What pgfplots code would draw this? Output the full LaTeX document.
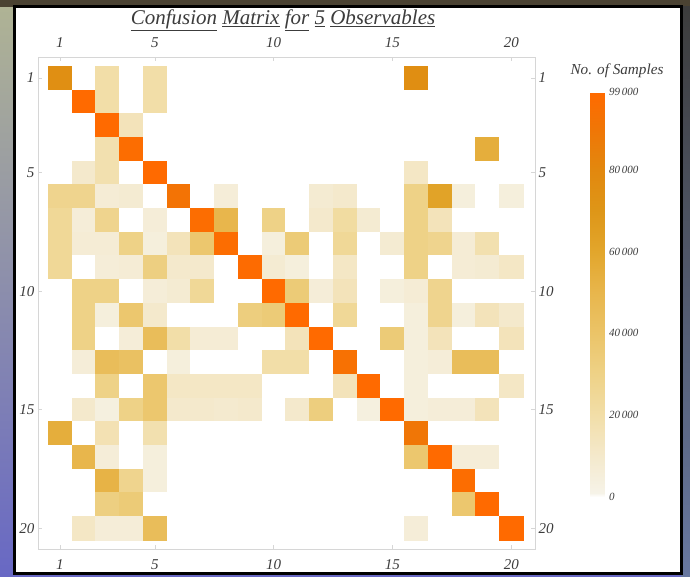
\documentclass[border=0pt]{standalone}
\usepackage{pgfplots}
\usepackage{pgfplotstable}
\pgfplotsset{compat=1.18}
\usepackage{fontspec}
\setmainfont{Liberation Serif}

\definecolor{framegray}{RGB}{214,214,214}
\definecolor{labelgray}{RGB}{60,60,60}
\definecolor{bgtop}{RGB}{176,180,148}
\definecolor{bgmid}{RGB}{150,146,120}
\definecolor{bgbot}{RGB}{104,104,196}
\definecolor{bgband}{RGB}{74,66,50}
\definecolor{bgrtop}{RGB}{60,60,60}
\definecolor{bgrbot}{RGB}{104,120,160}

\pgfplotsset{
  colormap={samples}{
    rgb255(0pt)=(255,255,255)
    rgb255(1pt)=(246,243,232)
    rgb255(10pt)=(244,233,204)
    rgb255(20pt)=(242,222,168)
    rgb255(30pt)=(238,210,135)
    rgb255(40pt)=(235,196,104)
    rgb255(50pt)=(232,182,76)
    rgb255(60pt)=(226,166,44)
    rgb255(70pt)=(222,150,24)
    rgb255(80pt)=(226,136,14)
    rgb255(90pt)=(240,118,6)
    rgb255(99pt)=(255,106,0)
  },
  ticklabelfont/.style={font=\fontsize{15}{15}\selectfont\itshape, text=labelgray},
}

% counts per (true class = row, predicted class = column), read row by row
\pgfplotstableread[row sep=\\, header=false]{
75000\\ 0\\ 20000\\ 0\\ 20000\\ 0\\ 0\\ 0\\ 0\\ 0\\ 0\\ 0\\ 0\\ 0\\ 0\\ 76000\\ 0\\ 0\\ 0\\ 0\\
0\\ 99000\\ 20000\\ 0\\ 20000\\ 0\\ 0\\ 0\\ 0\\ 0\\ 0\\ 0\\ 0\\ 0\\ 0\\ 0\\ 0\\ 0\\ 0\\ 0\\
0\\ 0\\ 99000\\ 15000\\ 0\\ 0\\ 0\\ 0\\ 0\\ 0\\ 0\\ 0\\ 0\\ 0\\ 0\\ 0\\ 0\\ 0\\ 0\\ 0\\
0\\ 0\\ 18000\\ 97000\\ 0\\ 0\\ 0\\ 0\\ 0\\ 0\\ 0\\ 0\\ 0\\ 0\\ 0\\ 0\\ 0\\ 0\\ 55000\\ 0\\
0\\ 10000\\ 18000\\ 0\\ 99000\\ 0\\ 0\\ 0\\ 0\\ 0\\ 0\\ 0\\ 0\\ 0\\ 0\\ 12000\\ 0\\ 0\\ 0\\ 0\\
28000\\ 28000\\ 7000\\ 8000\\ 0\\ 92000\\ 0\\ 6000\\ 0\\ 0\\ 0\\ 8000\\ 10000\\ 0\\ 0\\ 30000\\ 62000\\ 5000\\ 0\\ 5000\\
25000\\ 6000\\ 28000\\ 0\\ 6000\\ 0\\ 97000\\ 50000\\ 0\\ 30000\\ 0\\ 10000\\ 22000\\ 8000\\ 0\\ 30000\\ 15000\\ 0\\ 0\\ 0\\
25000\\ 7000\\ 7000\\ 30000\\ 5000\\ 15000\\ 38000\\ 97000\\ 0\\ 5000\\ 35000\\ 0\\ 25000\\ 0\\ 8000\\ 30000\\ 28000\\ 7000\\ 18000\\ 0\\
25000\\ 0\\ 6000\\ 7000\\ 32000\\ 10000\\ 10000\\ 0\\ 98000\\ 8000\\ 5000\\ 0\\ 12000\\ 0\\ 0\\ 30000\\ 0\\ 7000\\ 8000\\ 12000\\
0\\ 30000\\ 30000\\ 0\\ 6000\\ 8000\\ 25000\\ 0\\ 0\\ 99000\\ 35000\\ 6000\\ 15000\\ 0\\ 5000\\ 7000\\ 28000\\ 0\\ 0\\ 0\\
0\\ 30000\\ 5000\\ 38000\\ 10000\\ 0\\ 0\\ 0\\ 33000\\ 35000\\ 99000\\ 0\\ 25000\\ 0\\ 0\\ 5000\\ 28000\\ 5000\\ 15000\\ 10000\\
0\\ 30000\\ 0\\ 6000\\ 45000\\ 20000\\ 7000\\ 7000\\ 0\\ 0\\ 15000\\ 99000\\ 0\\ 0\\ 35000\\ 5000\\ 15000\\ 0\\ 0\\ 15000\\
0\\ 6000\\ 45000\\ 42000\\ 0\\ 5000\\ 0\\ 0\\ 0\\ 20000\\ 20000\\ 0\\ 94000\\ 0\\ 0\\ 5000\\ 6000\\ 45000\\ 45000\\ 0\\
0\\ 0\\ 30000\\ 0\\ 38000\\ 12000\\ 12000\\ 12000\\ 12000\\ 0\\ 0\\ 0\\ 15000\\ 99000\\ 0\\ 5000\\ 0\\ 0\\ 0\\ 12000\\
0\\ 10000\\ 4000\\ 30000\\ 38000\\ 10000\\ 10000\\ 9000\\ 10000\\ 0\\ 10000\\ 33000\\ 0\\ 4000\\ 99000\\ 5000\\ 6000\\ 6000\\ 15000\\ 0\\
55000\\ 0\\ 17000\\ 0\\ 18000\\ 0\\ 0\\ 0\\ 0\\ 0\\ 0\\ 0\\ 0\\ 0\\ 0\\ 90000\\ 0\\ 0\\ 0\\ 0\\
0\\ 50000\\ 6000\\ 0\\ 5000\\ 0\\ 0\\ 0\\ 0\\ 0\\ 0\\ 0\\ 0\\ 0\\ 0\\ 38000\\ 99000\\ 6000\\ 6000\\ 0\\
0\\ 0\\ 52000\\ 28000\\ 5000\\ 0\\ 0\\ 0\\ 0\\ 0\\ 0\\ 0\\ 0\\ 0\\ 0\\ 0\\ 0\\ 97000\\ 0\\ 0\\
0\\ 0\\ 32000\\ 35000\\ 0\\ 0\\ 0\\ 0\\ 0\\ 0\\ 0\\ 0\\ 0\\ 0\\ 0\\ 0\\ 0\\ 38000\\ 99000\\ 0\\
0\\ 12000\\ 6000\\ 6000\\ 45000\\ 0\\ 0\\ 0\\ 0\\ 0\\ 0\\ 0\\ 0\\ 0\\ 0\\ 6000\\ 0\\ 0\\ 0\\ 99000\\
}\confusion

\begin{document}
\begin{tikzpicture}[x=1pt,y=1pt]
% backdrop behind the panel
\shade[top color=bgtop, middle color=bgmid, bottom color=bgbot] (0,0) rectangle (690,576);
\fill[bgband] (0,569) rectangle (690,576);
\shade[top color=bgrtop, bottom color=bgrbot] (681,0) rectangle (690,569);
% white panel with black border
\draw[line width=3pt, fill=white] (14.5,2.5) rectangle (681.5,569.5);

% title
\node[font=\fontsize{21}{21}\selectfont\itshape, text=labelgray] at (283,556)
  {\underline{Confusion} \underline{Matrix} \underline{for} \underline{5} \underline{Observables}};
% colour bar heading
\node[font=\fontsize{15.2}{15.2}\selectfont\itshape, text=labelgray] at (617,505) {No. of Samples};

\begin{axis}[
  at={(38pt,27pt)}, anchor=south west,
  scale only axis, width=497pt, height=492pt,
  xmin=0.08, xmax=21.0, ymin=0.12, ymax=20.88, y dir=reverse,
  axis line style={draw=framegray, line width=0.8pt},
  xtick={1,5,10,15,20}, ytick={1,5,10,15,20},
  tick style={draw=framegray, line width=0.6pt}, major tick length=4pt,
  tick pos=both, xticklabel pos=right, yticklabel pos=left,
  ticklabel style={ticklabelfont},
  xticklabel style={yshift=6pt},
  /pgf/number format/assume math mode=true,
  colormap name=samples, point meta min=0, point meta max=99000,
  colorbar,
  colorbar style={
    at={(parent axis.north east)}, anchor=north west,
    xshift=47pt, yshift=-35pt,
    width=15pt, height=405pt,
    axis line style={draw=none}, major tick length=0pt,
    ytick={0,20000,40000,60000,80000,99000},
    yticklabels={0,20\,000,40\,000,60\,000,80\,000,99\,000},
    yticklabel style={font=\fontsize{11}{11}\selectfont\itshape, text=labelgray},
    scaled y ticks=false,
  },
]
% one square per matrix entry, side = one data unit (497pt / 20.92)
\addplot[scatter, only marks, mark=square*, mark size=11.88pt,
  point meta=explicit,
  scatter/use mapped color={draw=mapped color, fill=mapped color},
  mark options={line width=0.3pt}]
  table[x index=0, y index=0,
        x expr={\coordindex - 20*floor((\coordindex+0.5)/20) + 1},
        y expr={floor((\coordindex+0.5)/20) + 1},
        meta index=0] {\confusion};
\end{axis}

% second frame carrying the opposite tick labels
\begin{axis}[
  at={(38pt,27pt)}, anchor=south west,
  scale only axis, width=497pt, height=492pt,
  xmin=0.08, xmax=21.0, ymin=0.12, ymax=20.88, y dir=reverse,
  axis line style={draw=none}, tick style={draw=none},
  xtick={1,5,10,15,20}, ytick={1,5,10,15,20},
  xticklabel pos=left, yticklabel pos=right,
  ticklabel style={ticklabelfont},
  xticklabel style={yshift=-7pt},
  /pgf/number format/assume math mode=true,
]
\addplot[draw=none] coordinates {(1,1)};
\end{axis}
\pgfresetboundingbox
\useasboundingbox (0,0) rectangle (690,576);
\end{tikzpicture}
\end{document}
